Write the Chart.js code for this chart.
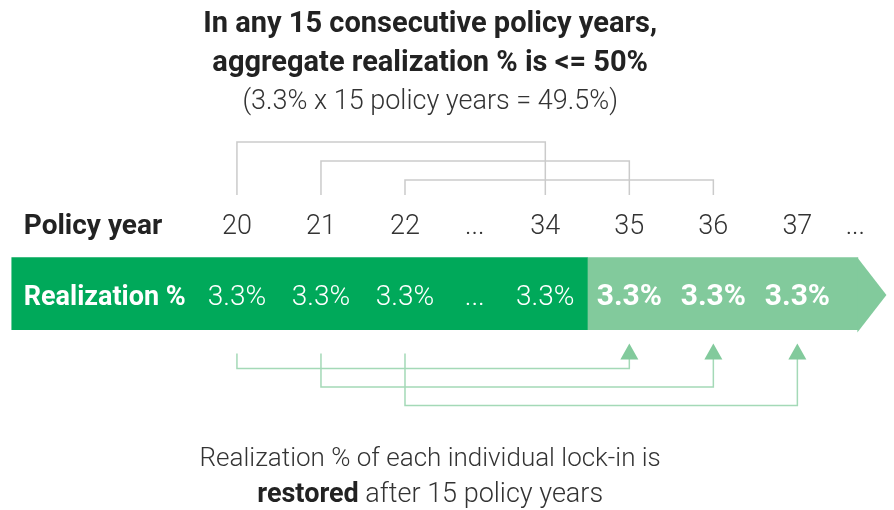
<!DOCTYPE html>
<html>
<head>
<meta charset="utf-8">
<script src="https://cdn.jsdelivr.net/npm/chart.js@4.4.1/dist/chart.umd.min.js"></script>
<style>
  html, body { margin: 0; background: #fff; }
  #wrap { width: 894px; height: 510px; position: relative; }
</style>
</head>
<body>
<div id="wrap"><canvas id="diagram"></canvas></div>
<script>
const years = ['20', '21', '22', '...', '34', '35', '36', '37', '...'];
const realization = [3.3, 3.3, 3.3, null, 3.3, 3.3, 3.3, 3.3];
const windowYears = 15;
const bracketStarts = ['20', '21', '22'];
const rowLabels = ['Policy year', 'Realization %'];
const titleLines = ['In any 15 consecutive policy years,', 'aggregate realization % is <= 50%'];
const subtitle = '(3.3% x 15 policy years = 49.5%)';
const footerLine = 'Realization % of each individual lock-in is';
const footerBold = 'restored';
const footerRest = ' after 15 policy years';

// layout (column units, 1 = one policy year column)
const colPos = [0, 1, 2, 2.83, 3.67, 4.67, 5.67, 6.67, 7.36];
const bandStart = -2.68;
const bandEnd = colPos[7] + 0.72;
const arrowTip = bandEnd + 0.34;
const textCenter = 2.3;

const DARK = '#00a95a';
const LIGHT = '#82ca9c';
const LINE_GREEN = '#a4d9b7';
const GREY = '#cbcbcb';
const FONT = 'Roboto, "Liberation Sans", sans-serif';

const idx = y => years.indexOf(String(y));
const lastDark = idx(+bracketStarts[0] + windowYears - 1);
const boundary = (colPos[lastDark] + colPos[lastDark + 1]) / 2;

function txt(ctx, str, x, y, font, color, align, maxW) {
  ctx.font = font;
  ctx.fillStyle = color;
  ctx.textAlign = align;
  ctx.textBaseline = 'alphabetic';
  if (maxW) ctx.fillText(str, x, y, maxW);
  else ctx.fillText(str, x, y);
}

const diagramPlugin = {
  id: 'diagram',
  afterDatasetsDraw(chart) {
    const { ctx, scales: { x, y } } = chart;
    const px = i => x.getPixelForValue(colPos[i]);
    const rowY = y.getPixelForValue(0);
    const bar = chart.getDatasetMeta(1).data[1].getProps(['x', 'y', 'height'], true);
    const bandTop = bar.y - bar.height / 2;
    const bandBottom = bar.y + bar.height / 2;
    const labelX = x.getPixelForValue(bandStart) + 12;
    const cx = x.getPixelForValue(textCenter);

    ctx.save();

    // arrow head of the band
    ctx.fillStyle = LIGHT;
    ctx.beginPath();
    ctx.moveTo(bar.x - 0.5, bandTop);
    ctx.lineTo(x.getPixelForValue(arrowTip), bar.y);
    ctx.lineTo(bar.x - 0.5, bandBottom);
    ctx.closePath();
    ctx.fill();

    // title
    txt(ctx, titleLines[0], cx, 32, `bold 29px ${FONT}`, '#222', 'center', 455);
    txt(ctx, titleLines[1], cx, 71, `bold 29px ${FONT}`, '#222', 'center', 447);
    txt(ctx, subtitle, cx, 109, `300 27px ${FONT}`, '#333', 'center', 383);

    // 15-year windows above
    ctx.strokeStyle = GREY;
    ctx.lineWidth = 1.5;
    bracketStarts.forEach((s, k) => {
      const a = px(idx(s));
      const b = px(idx(+s + windowYears - 1));
      const top = rowY - 83 + k * 19;
      const legEnd = rowY - 30;
      ctx.beginPath();
      ctx.moveTo(a, legEnd);
      ctx.lineTo(a, top);
      ctx.lineTo(b, top);
      ctx.lineTo(b, legEnd);
      ctx.stroke();
    });

    // row labels
    txt(ctx, rowLabels[0], labelX, rowY + 9, `bold 28px ${FONT}`, '#222', 'left', 143);
    txt(ctx, rowLabels[1], labelX, bar.y + 10, `bold 27px ${FONT}`, '#fff', 'left', 162);

    years.forEach((l, i) => {
      txt(ctx, l, px(i), rowY + 9, `300 27px ${FONT}`, '#333', 'center');
    });

    realization.forEach((v, i) => {
      const restored = colPos[i] > boundary;
      const s = v === null ? years[i] : v.toFixed(1) + '%';
      const f = restored ? `bold 30px ${FONT}` : `300 28px ${FONT}`;
      txt(ctx, s, px(i), bar.y + 10, f, '#fff', 'center');
    });

    // restoration arrows below
    ctx.strokeStyle = LINE_GREEN;
    bracketStarts.forEach((s, k) => {
      const a = px(idx(s));
      const b = px(idx(+s + windowYears));
      const base = bandBottom + 36 + k * 18.5;
      ctx.beginPath();
      ctx.moveTo(a, bandBottom + 21);
      ctx.lineTo(a, base);
      ctx.lineTo(b, base);
      ctx.lineTo(b, bandBottom + 26);
      ctx.stroke();
      ctx.fillStyle = LIGHT;
      ctx.beginPath();
      ctx.moveTo(b, bandBottom + 11);
      ctx.lineTo(b + 9, bandBottom + 27);
      ctx.lineTo(b - 9, bandBottom + 27);
      ctx.closePath();
      ctx.fill();
    });

    // footer
    txt(ctx, footerLine, cx, 466, `300 26px ${FONT}`, '#333', 'center', 462);
    ctx.font = `bold 27px ${FONT}`;
    const wb = ctx.measureText(footerBold).width;
    ctx.font = `300 27px ${FONT}`;
    const wr = ctx.measureText(footerRest).width;
    const start = cx - (wb + wr) / 2;
    txt(ctx, footerBold, start, 502, `bold 27px ${FONT}`, '#222', 'left');
    txt(ctx, footerRest, start + wb, 502, `300 27px ${FONT}`, '#333', 'left');

    ctx.restore();
  }
};

const ctx = document.getElementById('diagram').getContext('2d');
const chart = new Chart(ctx, {
  type: 'bar',
  data: {
    labels: rowLabels,
    datasets: [
      {
        data: [null, [bandStart, boundary]],
        backgroundColor: DARK,
        grouped: false,
        barThickness: 75
      },
      {
        data: [null, [boundary, bandEnd]],
        backgroundColor: LIGHT,
        grouped: false,
        barThickness: 75
      }
    ]
  },
  options: {
    indexAxis: 'y',
    responsive: true,
    maintainAspectRatio: false,
    animation: false,
    layout: { padding: { top: 190, bottom: 180, left: 0, right: 0 } },
    scales: {
      x: { type: 'linear', min: -2.82, max: 7.82, display: false },
      y: { display: false }
    },
    plugins: {
      legend: { display: false },
      tooltip: { enabled: false }
    }
  },
  plugins: [diagramPlugin]
});
</script>
</body>
</html>
